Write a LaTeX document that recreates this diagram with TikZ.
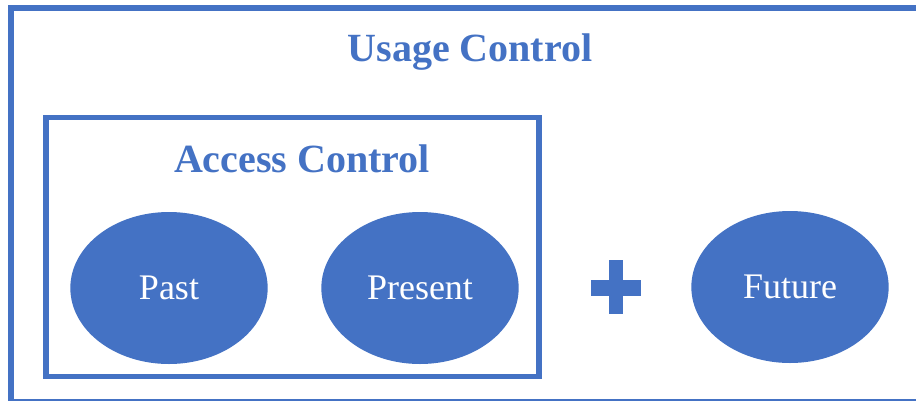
\documentclass[tikz,border=0pt]{standalone}
\usepackage{fontspec}
\setmainfont{Liberation Serif}
\usetikzlibrary{shapes.geometric}
\definecolor{ublue}{HTML}{4472C4}
\tikzset{
  frame/.style={draw=ublue, line width=4.1pt},
  title/.style={text=ublue, font=\fontsize{30}{36}\selectfont\bfseries, anchor=base, inner sep=0pt},
  blob/.style={ellipse, fill=ublue, draw=none, minimum width=148pt, minimum height=114pt,
    text=white, font=\fontsize{27}{32}\selectfont, text height=17.9pt, text depth=0pt, inner sep=0pt}
}
\begin{document}
\begin{tikzpicture}[x=0.75pt,y=-0.75pt]
\useasboundingbox (0,0) rectangle (916,400);
\fill[white] (0,0) rectangle (916,400);
% outer frame
\draw[frame] (10.8,8) rectangle (930,401.5);
% inner frame
\draw[frame] (46,117.5) rectangle (539,376.5);
% titles
\node[title] (usage) at (470,61) {Usage Control};
\node[title] (access) at (302,172) {Access Control};
% ellipses
\node[blob] (past) at (169,288) {Past};
\node[blob] (present) at (420,288) {Present};
\node[blob] (future) at (790,287) {Future};
% plus sign
\fill[ublue] (609,260) rectangle (623,314);
\fill[ublue] (591,280) rectangle (641,296);
\end{tikzpicture}
\end{document}
